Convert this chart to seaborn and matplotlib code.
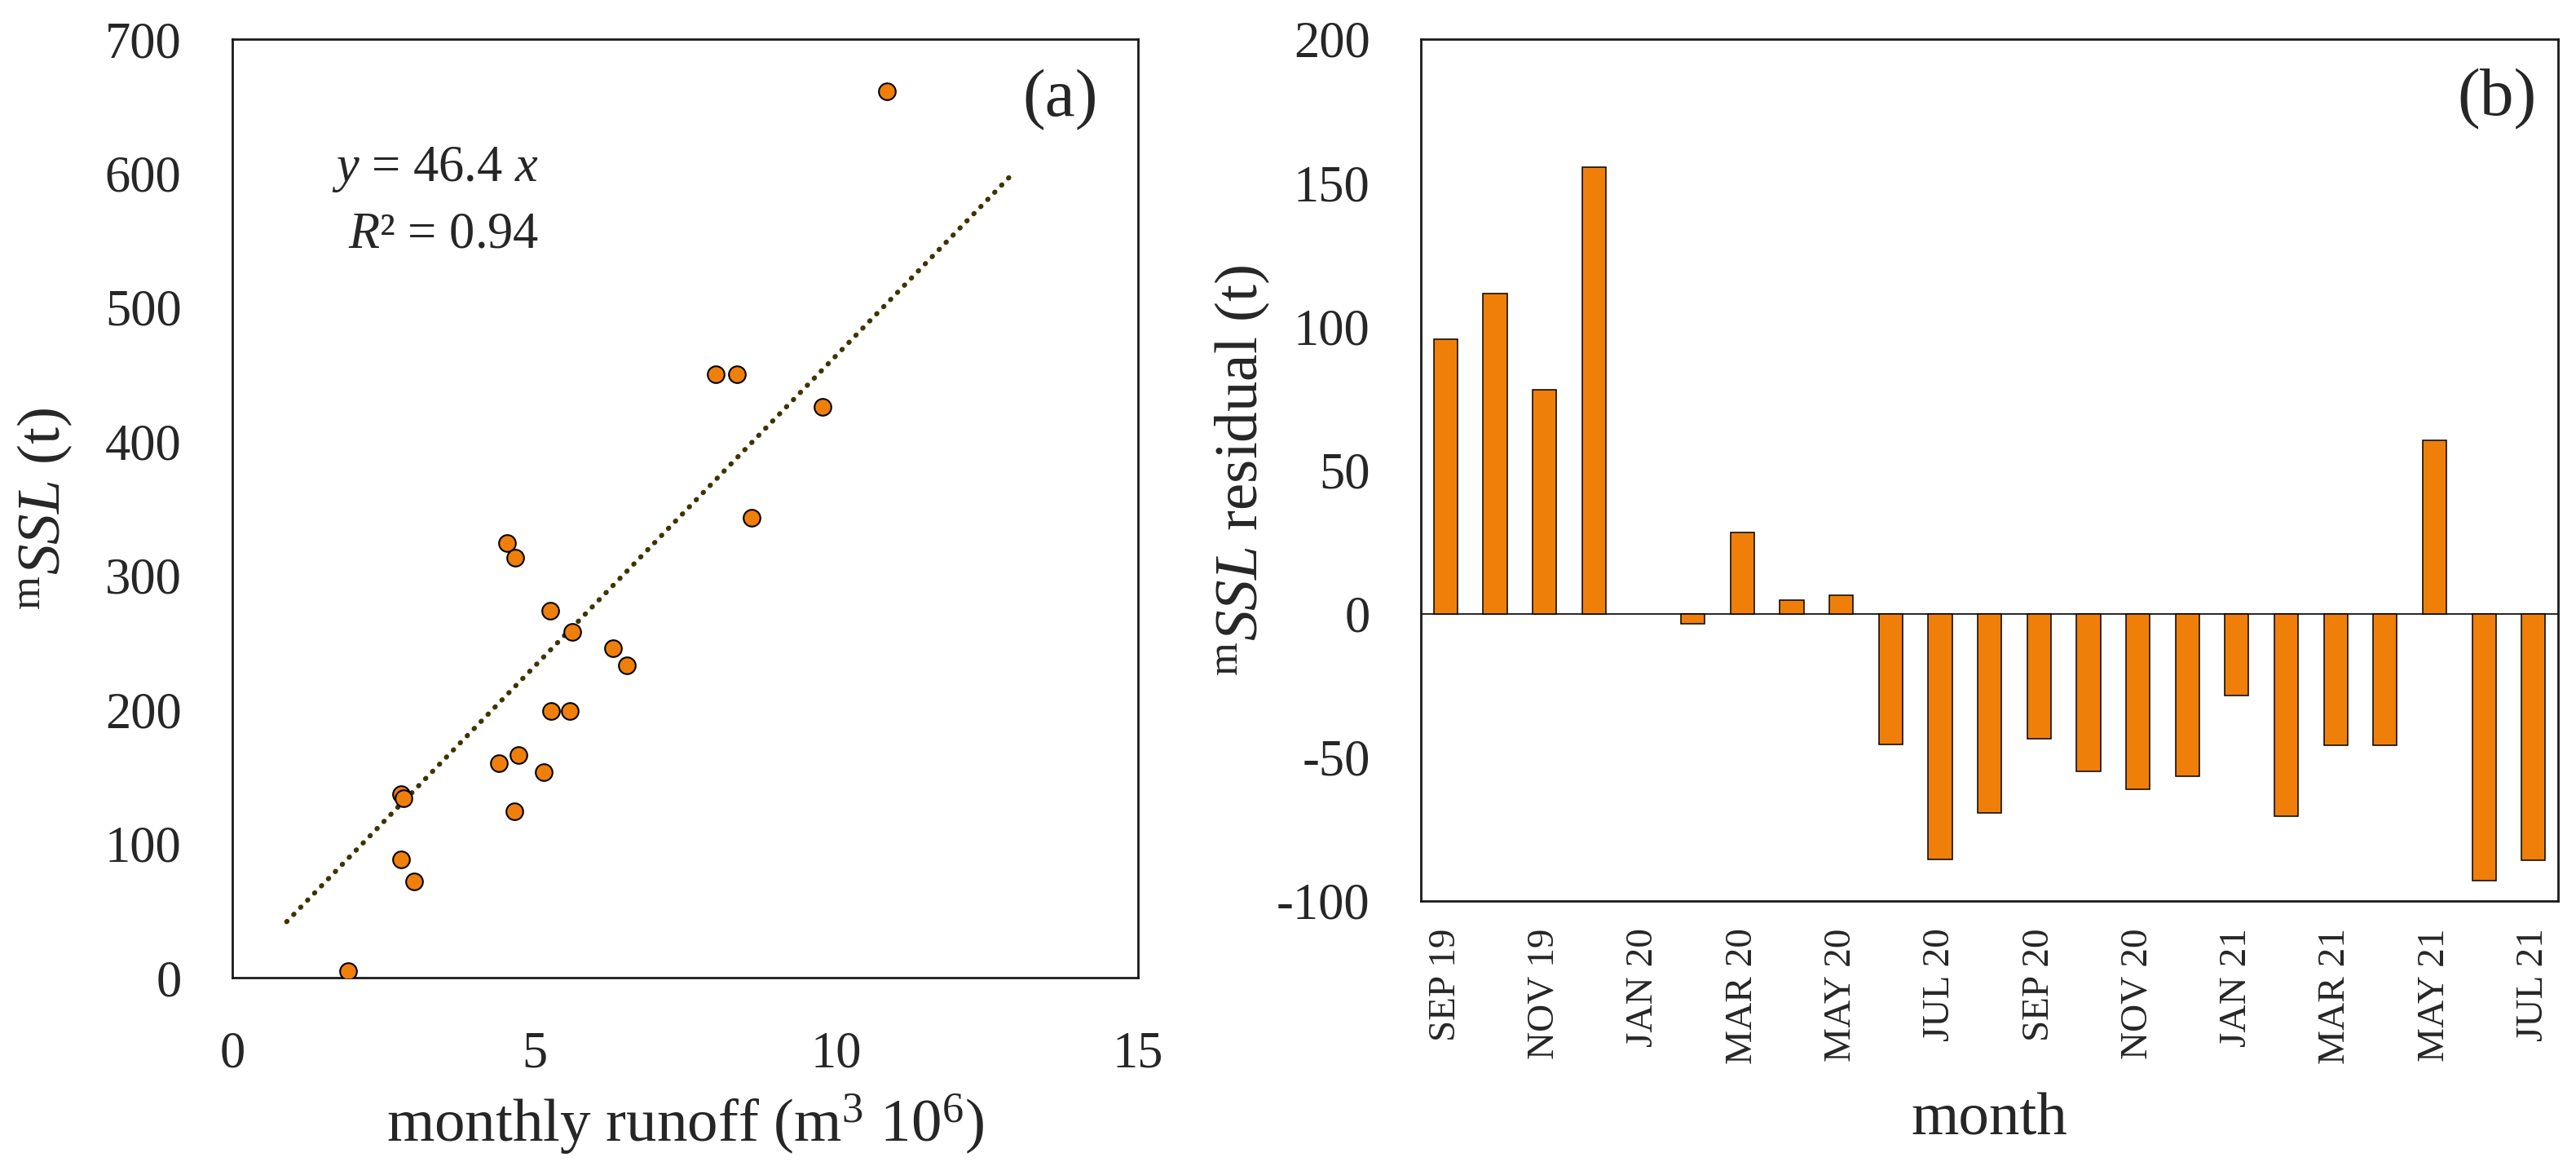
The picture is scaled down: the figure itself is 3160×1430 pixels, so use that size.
import numpy as np
import pandas as pd
import seaborn as sns
import matplotlib.pyplot as plt

# panel (a): monthly runoff vs suspended sediment load
runoff = [10.84, 8.00, 8.35, 9.77, 8.60, 4.55, 4.69, 5.26, 5.63, 6.30, 6.53,
          5.28, 5.59, 4.74, 4.41, 5.16, 2.80, 2.84, 4.67, 2.80, 3.01, 1.91]
ssl = [661, 450, 450, 426, 343, 324, 313, 274, 258, 246, 233,
       199, 199, 166, 160, 153, 137, 134, 124, 88, 72, 5]
slope = 46.4
r2 = 0.94
trend_x = [0.9, 12.9]

# panel (b): monthly residuals
months = ['SEP 19', 'OCT 19', 'NOV 19', 'DEC 19', 'JAN 20', 'FEB 20', 'MAR 20',
          'APR 20', 'MAY 20', 'JUN 20', 'JUL 20', 'AUG 20', 'SEP 20', 'OCT 20',
          'NOV 20', 'DEC 20', 'JAN 21', 'FEB 21', 'MAR 21', 'APR 21', 'MAY 21',
          'JUN 21', 'JUL 21']
resid = [95.5, 111.5, 78, 155.5, np.nan, -3.4, 28.4, 4.6, 6.5, -45.4, -85.4,
         -69.4, -43.6, -55, -61.2, -56.5, -28.4, -70.5, -45.7, -45.7, 60.4,
         -92.9, -85.9]

orange = '#F07F0A'

sns.set_theme(style='white')
plt.rcParams['font.family'] = ['Liberation Serif', 'DejaVu Serif']
plt.rcParams['mathtext.fontset'] = 'custom'
plt.rcParams['mathtext.rm'] = 'Liberation Serif'
plt.rcParams['mathtext.it'] = 'Liberation Serif:italic'
plt.rcParams['axes.unicode_minus'] = False

fig = plt.figure(figsize=(31.6, 14.3), dpi=100)
ax1 = fig.add_axes([0.0902, 0.1615, 0.3516, 0.8049])
ax2 = fig.add_axes([0.5516, 0.2273, 0.4415, 0.7392])

# (a) scatter + fitted line
sns.scatterplot(x=runoff, y=ssl, s=220, color=orange, edgecolor='black',
                linewidth=1.5, ax=ax1, zorder=3)
tx = np.array(trend_x)
ax1.plot(tx, slope * tx, color='#3d3400', linewidth=4.4,
         linestyle=(0, (0.1, 1.9)), dash_capstyle='round', zorder=2)
ax1.set_xlim(0, 15)
ax1.set_ylim(0, 700)
ax1.set_xticks([0, 5, 10, 15])
ax1.set_yticks(range(0, 701, 100))
ax1.set_xlabel('monthly runoff (m$^3$ 10$^6$)', fontsize=54)
ax1.set_ylabel(r'$^{\mathrm{m}}\mathit{SSL}$ (t)', fontsize=54)
ax1.xaxis.set_label_coords(0.5, -0.122)
ax1.yaxis.set_label_coords(-0.175, 0.5)
ax1.text(0.110, 0.849, r'$y$ = %.1f $x$' % slope, transform=ax1.transAxes,
         fontsize=45, ha='left', va='baseline')
ax1.text(0.128, 0.778, r'$R$² = %.2f' % r2, transform=ax1.transAxes,
         fontsize=45, ha='left', va='baseline')
ax1.text(0.956, 0.935, '(a)', transform=ax1.transAxes, fontsize=60,
         ha='right', va='center')

# (b) residual bars
df = pd.DataFrame({'month': months, 'resid': resid})
sns.barplot(data=df, x='month', y='resid', order=months, color=orange,
            saturation=1, width=0.48, edgecolor='black', linewidth=1.1,
            errorbar=None, ax=ax2)
ax2.axhline(0, color='black', linewidth=1.2, zorder=0)
ax2.set_xlim(-0.5, len(months) - 0.5)
ax2.set_ylim(-100, 200)
ax2.set_yticks(range(-100, 201, 50))
ax2.set_xticks(range(0, len(months), 2))
ax2.set_xticklabels(months[::2], rotation=90, fontsize=34)
ax2.set_xlabel('month', fontsize=54)
ax2.set_ylabel(r'$^{\mathrm{m}}\mathit{SSL}$ residual (t)', fontsize=54)
ax2.xaxis.set_label_coords(0.5, -0.222)
ax2.yaxis.set_label_coords(-0.131, 0.5)
ax2.text(0.981, 0.930, '(b)', transform=ax2.transAxes, fontsize=60,
         ha='right', va='center')

for ax in (ax1, ax2):
    for sp in ax.spines.values():
        sp.set_visible(True)
        sp.set_color('#1a1a1a')
        sp.set_linewidth(2)
    ax.tick_params(axis='y', length=0, pad=45, labelsize=45)
    ax.grid(False)
ax1.tick_params(axis='x', length=0, pad=47, labelsize=45)
ax2.tick_params(axis='x', length=0, pad=24)

fig.savefig('out.png', dpi=100)
